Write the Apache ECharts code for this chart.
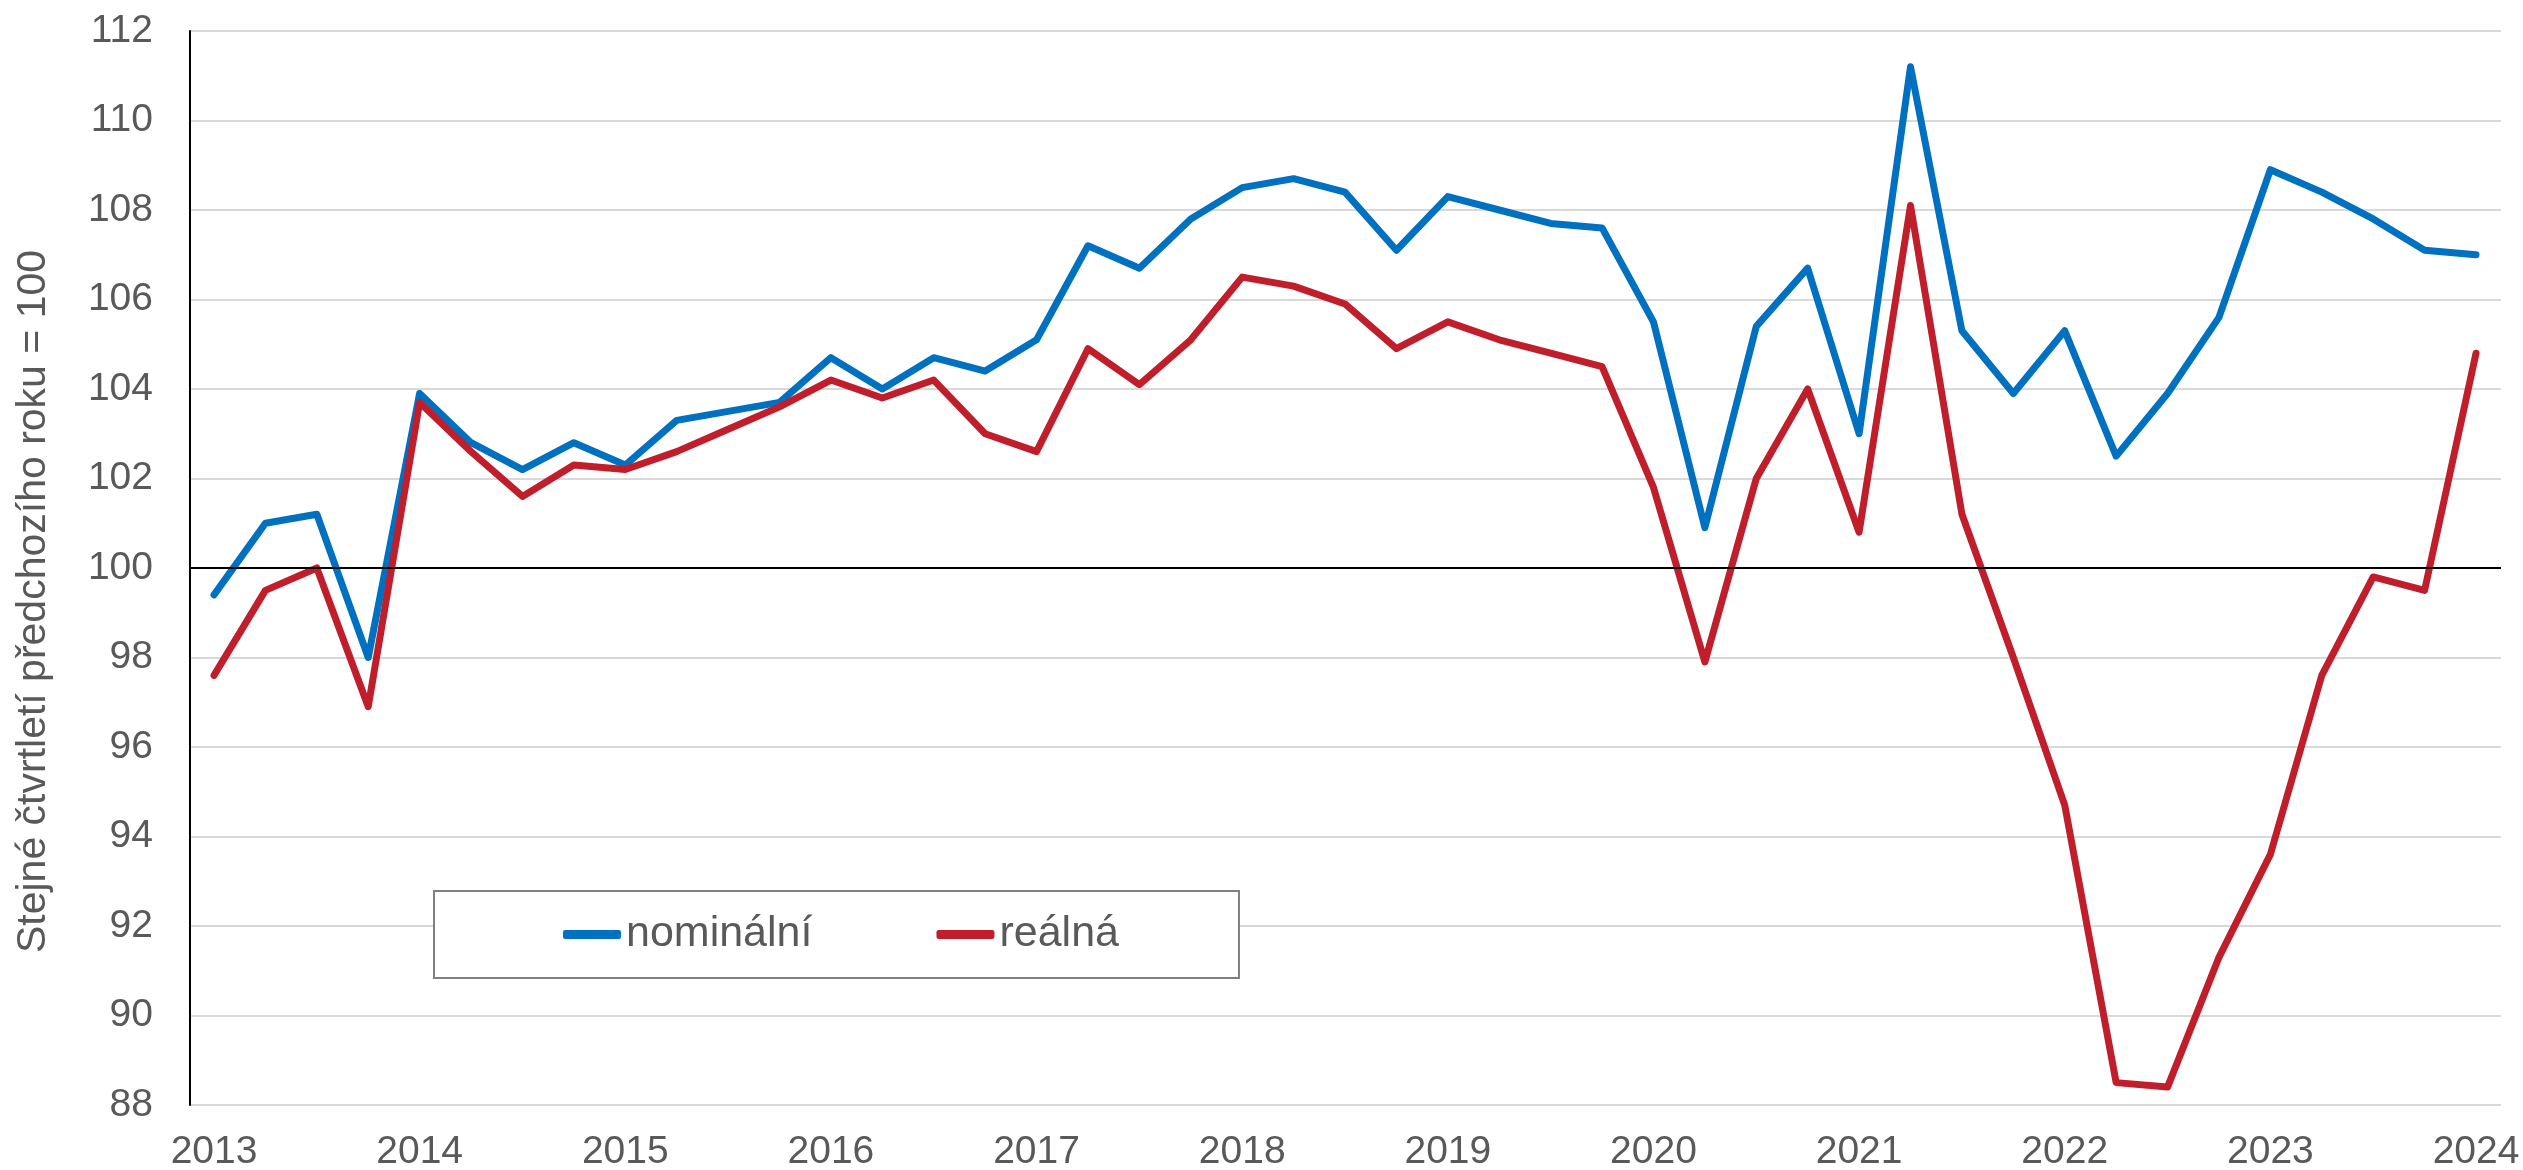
<!DOCTYPE html>
<html>
<head>
<meta charset="utf-8">
<script src="https://cdn.jsdelivr.net/npm/echarts@6/dist/echarts.min.js"></script>
<style>
html,body{margin:0;padding:0;background:#fff;}
#chart{width:2523px;height:1170px;}
</style>
</head>
<body>
<div id="chart"></div>
<script>
const quarters = [
  '2013Q1','2013Q2','2013Q3','2013Q4','2014Q1','2014Q2','2014Q3','2014Q4',
  '2015Q1','2015Q2','2015Q3','2015Q4','2016Q1','2016Q2','2016Q3','2016Q4',
  '2017Q1','2017Q2','2017Q3','2017Q4','2018Q1','2018Q2','2018Q3','2018Q4',
  '2019Q1','2019Q2','2019Q3','2019Q4','2020Q1','2020Q2','2020Q3','2020Q4',
  '2021Q1','2021Q2','2021Q3','2021Q4','2022Q1','2022Q2','2022Q3','2022Q4',
  '2023Q1','2023Q2','2023Q3','2023Q4','2024Q1'
];
const nominalni = [
  99.4, 101.0, 101.2, 98.0,
  103.9, 102.8, 102.2, 102.8,
  102.3, 103.3, 103.5, 103.7,
  104.7, 104.0, 104.7, 104.4,
  105.1, 107.2, 106.7, 107.8,
  108.5, 108.7, 108.4, 107.1,
  108.3, 108.0, 107.7, 107.6,
  105.5, 100.9, 105.4, 106.7,
  103.0, 111.2, 105.3, 103.9,
  105.3, 102.5, 103.9, 105.6,
  108.9, 108.4, 107.8, 107.1,
  107.0
];
const realna = [
  97.6, 99.5, 100.0, 96.9,
  103.7, 102.6, 101.6, 102.3,
  102.2, 102.6, 103.1, 103.6,
  104.2, 103.8, 104.2, 103.0,
  102.6, 104.9, 104.1, 105.1,
  106.5, 106.3, 105.9, 104.9,
  105.5, 105.1, 104.8, 104.5,
  101.8, 97.9, 102.0, 104.0,
  100.8, 108.1, 101.2, 98.0,
  94.7, 88.5, 88.4, 91.3,
  93.6, 97.6, 99.8, 99.5,
  104.8
];
const yearLabels = ['2013','2014','2015','2016','2017','2018','2019','2020','2021','2022','2023','2024'];
const seriesNames = ['nominální','reálná'];
const yTicks = [88,90,92,94,96,98,100,102,104,106,108,110,112];
const yTitle = 'Stejné čtvrtletí předchozího roku = 100';

const labelPositions = yearLabels.map(y => quarters.indexOf(y + 'Q1'));
const toPairs = arr => arr.map((v, i) => [i, v]);

const font = '"Liberation Sans", Arial, sans-serif';
const textColor = '#595959';

const chart = echarts.init(document.getElementById('chart'), null, {renderer: 'canvas'});
chart.setOption({
  animation: false,
  backgroundColor: '#ffffff',
  grid: {left: 190, right: 22, top: 31, bottom: 65, containLabel: false, outerBoundsMode: 'none'},
  legend: {
    data: seriesNames,
    left: 434, top: 891,
    padding: [22, 120, 22, 129],
    itemGap: 124,
    itemWidth: 58, itemHeight: 9,
    icon: 'roundRect',
    borderColor: '#808080', borderWidth: 2,
    backgroundColor: '#ffffff',
    textStyle: {fontFamily: font, fontSize: 43, color: textColor}
  },
  xAxis: {
    type: 'value',
    min: -0.467, max: 44.486,
    axisLine: {show: false},
    axisTick: {show: false},
    splitLine: {show: false},
    axisLabel: {
      customValues: labelPositions,
      formatter: v => yearLabels[labelPositions.indexOf(Math.round(v))] || '',
      fontFamily: font, fontSize: 39, color: textColor, margin: 28
    }
  },
  yAxis: {
    type: 'value',
    min: yTicks[0], max: yTicks[yTicks.length-1], interval: 2,
    name: yTitle,
    nameLocation: 'middle',
    nameGap: 136,
    nameTextStyle: {fontFamily: font, fontSize: 41, color: textColor, padding: [0, 67, 0, 0]},
    axisLine: {show: true, onZero: false, lineStyle: {color: '#000000', width: 2}},
    axisTick: {show: false},
    axisLabel: {fontFamily: font, fontSize: 39, color: textColor, margin: 37},
    splitLine: {show: true, lineStyle: {color: '#d9d9d9', width: 2}}
  },
  series: [
    {
      name: seriesNames[0], type: 'line', data: toPairs(nominalni),
      showSymbol: false, symbol: 'none',
      lineStyle: {color: '#0070c0', width: 7, join: 'round', cap: 'round'},
      itemStyle: {color: '#0070c0'},
      z: 3,
      markLine: {
        silent: true, symbol: 'none', label: {show: false},
        lineStyle: {color: '#000000', width: 2, type: 'solid'},
        data: [{yAxis: 100}]
      }
    },
    {
      name: seriesNames[1], type: 'line', data: toPairs(realna),
      showSymbol: false, symbol: 'none',
      lineStyle: {color: '#c01e2a', width: 7, join: 'round', cap: 'round'},
      itemStyle: {color: '#c01e2a'},
      z: 4
    }
  ]
});
</script>
</body>
</html>
